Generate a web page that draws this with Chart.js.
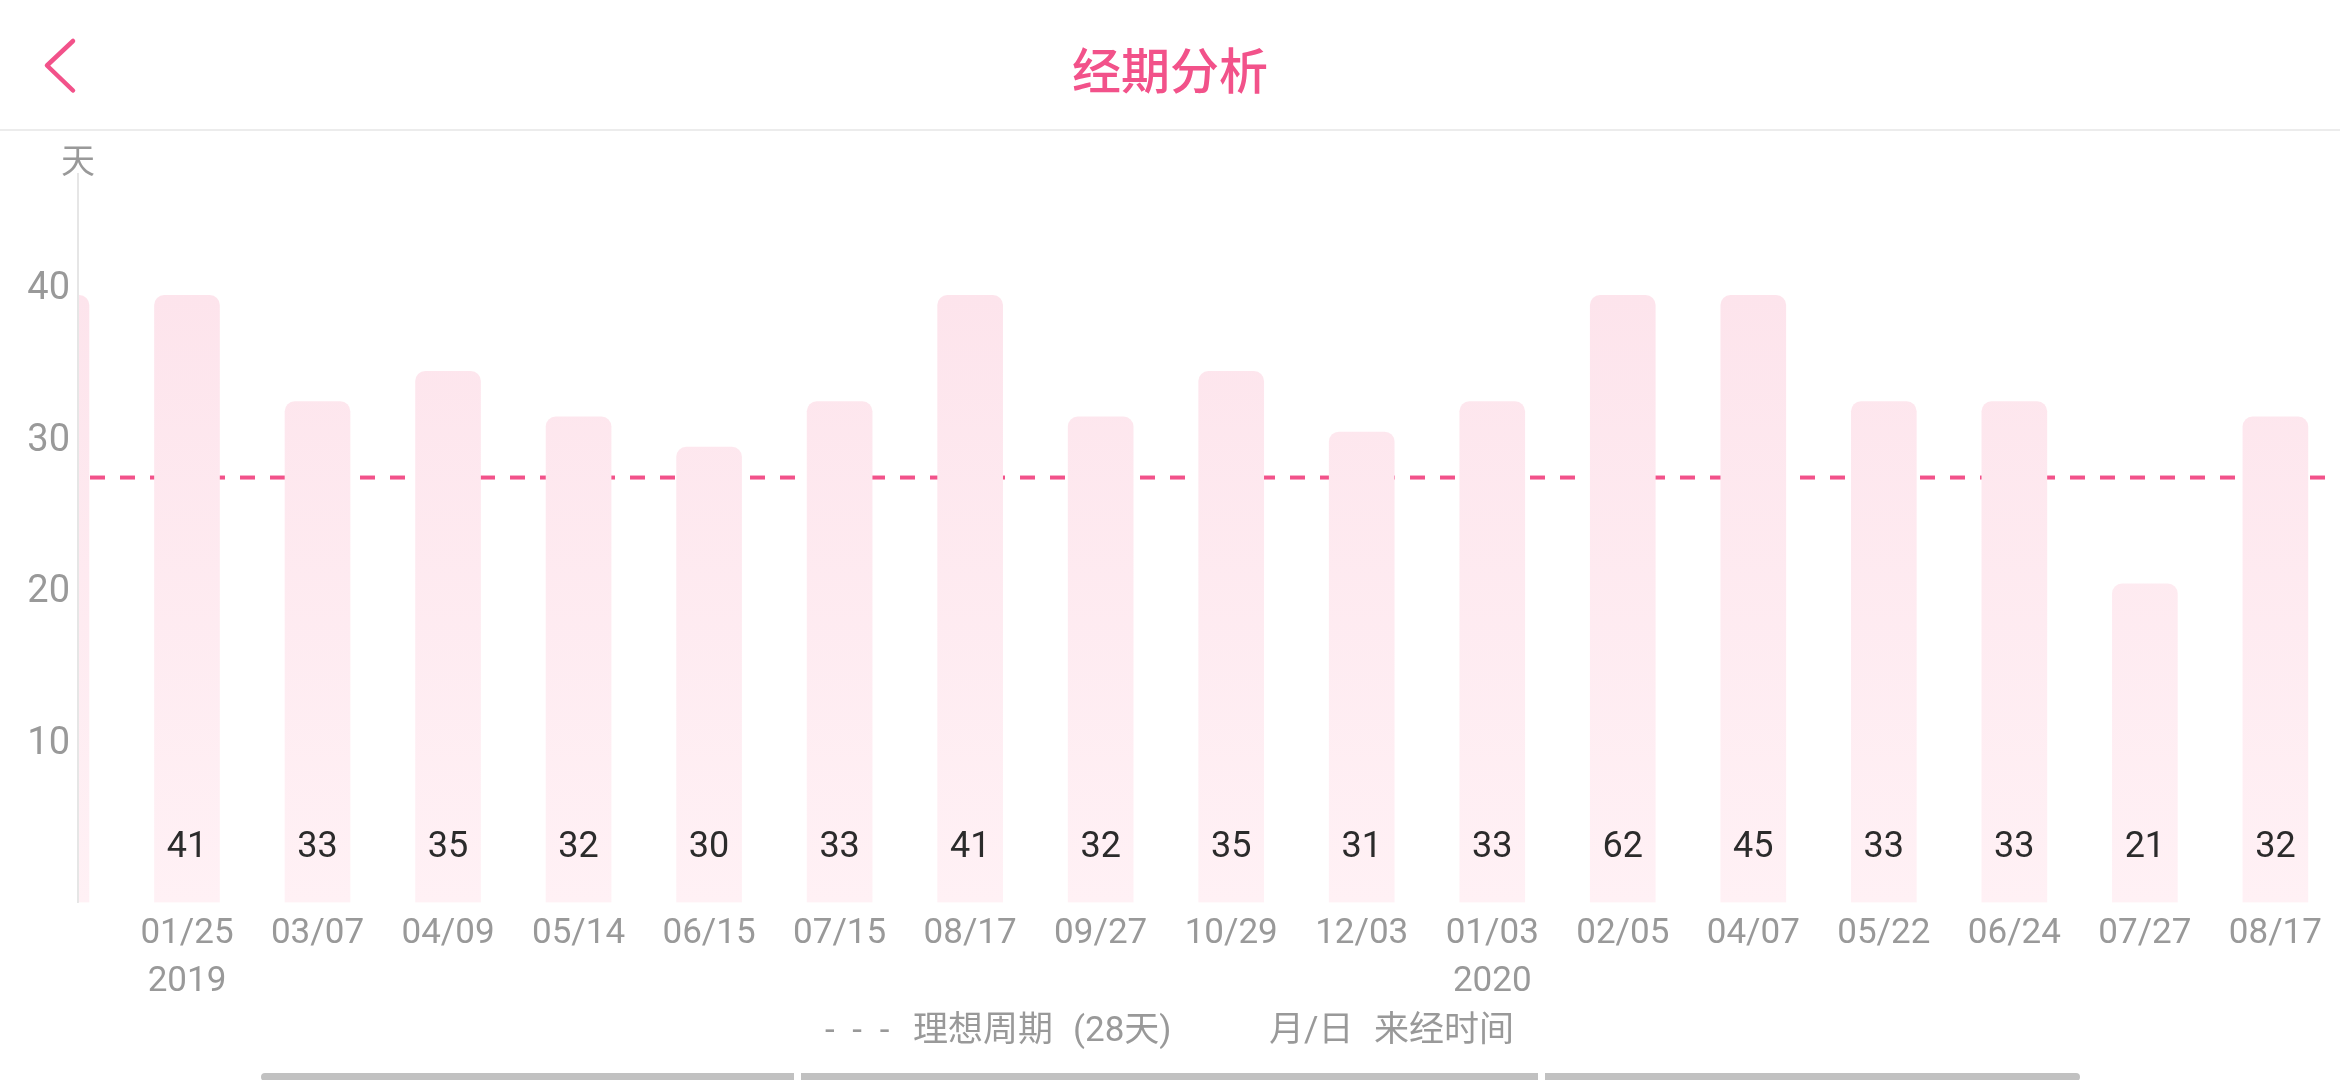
<!DOCTYPE html>
<html>
<head>
<meta charset="utf-8">
<script src="https://cdn.jsdelivr.net/npm/chart.js@4/dist/chart.umd.min.js"></script>
<style>
  html, body { margin: 0; padding: 0; background: #fff; }
  body { width: 2340px; height: 1080px; position: relative; overflow: hidden;
         font-family: Roboto, "Noto Sans CJK SC", sans-serif; }
  .title { position: absolute; left: 0; width: 2340px; top: 38px; text-align: center;
           font-family: "Noto Sans CJK SC", sans-serif; font-size: 49px; font-weight: 500;
           color: #f2528a; line-height: 60px; }
  .back { position: absolute; left: 0; top: 0; }
  .hline { position: absolute; left: 0; top: 129px; width: 2340px; height: 2px; background: #ececec; }
  #wrap { position: absolute; left: 0; top: 0; width: 2340px; height: 1080px; }
  .legend { position: absolute; top: 1008px; left: 0; width: 2340px; height: 44px; font-size: 35px;
            color: #999; line-height: 44px; }
  .legend span { position: absolute; top: 0; white-space: pre; }
  .sb { position: absolute; top: 1073px; height: 8px; background: #c1c1c1; }
</style>
</head>
<body>
<svg class="back" width="120" height="130">
  <polyline points="73,41 47,65.5 73,90.5" fill="none" stroke="#f2528a" stroke-width="4.5"
            stroke-linecap="round" stroke-linejoin="round"/>
</svg>
<div class="title">经期分析</div>
<div class="hline"></div>
<div id="wrap"><canvas id="chart"></canvas></div>
<div class="legend"><span style="left:825px;word-spacing:9px">- - -</span><span style="left:913px">理想周期</span><span style="left:1073px">(28天)</span><span style="left:1269px">月/日</span><span style="left:1374px">来经时间</span></div>
<div class="sb" style="left:261px;width:533px;border-radius:4px 0 0 4px"></div>
<div class="sb" style="left:801px;width:737px"></div>
<div class="sb" style="left:1545px;width:535px;border-radius:0 4px 4px 0"></div>
<script>
// start dates of each cycle (first one is scrolled off to the left)
const dates = ["", "01/25", "03/07", "04/09", "05/14", "06/15", "07/15", "08/17", "09/27",
  "10/29", "12/03", "01/03", "02/05", "04/07", "05/22", "06/24", "07/27", "08/17"];
const years = ["", "2019", "", "", "", "", "", "", "", "", "", "2020", "", "", "", "", "", ""];
// cycle length in days
const cycleDays = [40, 41, 33, 35, 32, 30, 33, 41, 32, 35, 31, 33, 62, 45, 33, 33, 21, 32];
const yTicks = [10, 20, 30, 40];
const idealCycle = 28;
const capDays = 40;

const pink = "#f2528a";
const grey = "#999999";
const axisGrey = "#e6e6e6";

const idealLine = {
  id: "idealLine",
  beforeDatasetsDraw(chart) {
    const { ctx, chartArea, scales } = chart;
    const y = scales.y.getPixelForValue(idealCycle);
    ctx.save();
    ctx.strokeStyle = pink;
    ctx.lineWidth = 4;
    ctx.setLineDash([15, 15]);
    ctx.lineDashOffset = 18;
    ctx.beginPath();
    ctx.moveTo(chartArea.left, y);
    ctx.lineTo(chartArea.right, y);
    ctx.stroke();
    ctx.restore();
  }
};

const barValues = {
  id: "barValues",
  afterDatasetsDraw(chart) {
    const { ctx, chartArea, scales } = chart;
    const meta = chart.getDatasetMeta(0);
    ctx.save();
    // y axis line again, over the half hidden bar
    ctx.strokeStyle = axisGrey;
    ctx.lineWidth = 2;
    ctx.beginPath();
    ctx.moveTo(chartArea.left, chartArea.top);
    ctx.lineTo(chartArea.left, chartArea.bottom);
    ctx.stroke();

    ctx.font = "36px Roboto, 'Noto Sans CJK SC', sans-serif";
    ctx.fillStyle = "#2b2b2b";
    ctx.textAlign = "center";
    ctx.textBaseline = "middle";
    meta.data.forEach((bar, i) => {
      if (bar.x < chartArea.left || bar.x > chartArea.right) return;
      ctx.fillText(String(cycleDays[i]), bar.x, chartArea.bottom - 55);
    });
    // unit label on top of the y axis
    ctx.font = "34px 'Noto Sans CJK SC', sans-serif";
    ctx.fillStyle = grey;
    ctx.fillText("天", scales.y.right, chartArea.top - 14);
    ctx.restore();
  }
};

const ctx = document.getElementById("chart").getContext("2d");
new Chart(ctx, {
  type: "bar",
  data: {
    datasets: [{
      data: cycleDays.map((v, i) => ({ x: i, y: Math.min(v, capDays) })),
      barThickness: 65,
      borderRadius: 10,
      borderSkipped: "bottom",
      clip: 0,
      backgroundColor(c) {
        const area = c.chart.chartArea;
        if (!area) return "#fde6ee";
        const g = c.chart.ctx.createLinearGradient(0, area.top + 120, 0, area.bottom);
        g.addColorStop(0, "#fde4ec");
        g.addColorStop(1, "#fff1f5");
        return g;
      }
    }]
  },
  options: {
    responsive: true,
    maintainAspectRatio: false,
    animation: false,
    layout: { padding: { top: 174, right: 15, left: 0, bottom: 0 } },
    plugins: { legend: { display: false }, tooltip: { enabled: false } },
    scales: {
      x: {
        type: "linear",
        offset: false,
        min: 0.165,
        max: 17.38,
        grid: { display: false, drawTicks: false, offset: false },
        border: { display: false },
        afterBuildTicks(scale) {
          scale.ticks = dates.map((d, i) => ({ value: i }))
            .filter(t => t.value >= 1 && t.value <= scale.max);
        },
        afterFit(scale) { scale.height = 177.5; },
        ticks: {
          autoSkip: false,
          maxRotation: 0,
          padding: 8,
          color: grey,
          font: { family: "Roboto, 'Noto Sans CJK SC', sans-serif", size: 35, lineHeight: 48 / 35 },
          callback(value) {
            const i = Math.round(value);
            return years[i] ? [dates[i], years[i]] : dates[i];
          }
        }
      },
      y: {
        min: 0,
        max: 48,
        grid: { display: false, drawTicks: false },
        border: { display: true, color: axisGrey, width: 2 },
        afterBuildTicks(scale) {
          scale.ticks = yTicks.map(v => ({ value: v }));
        },
        afterFit(scale) { scale.width = 78; },
        ticks: {
          padding: 8,
          labelOffset: -6,
          color: grey,
          font: { family: "Roboto, 'Noto Sans CJK SC', sans-serif", size: 38 }
        }
      }
    }
  },
  plugins: [idealLine, barValues]
});
</script>
</body>
</html>
